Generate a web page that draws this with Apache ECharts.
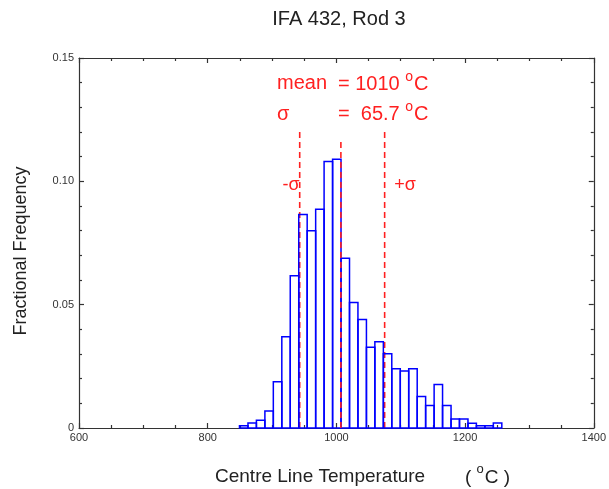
<!DOCTYPE html>
<html><head><meta charset="utf-8">
<script src="https://cdn.jsdelivr.net/npm/echarts@6/dist/echarts.min.js"></script>
<style>html,body{margin:0;padding:0;background:#fff}#c{width:609px;height:489px}</style>
</head><body><div id="c"></div>
<script>
const chartTitle = 'IFA 432, Rod 3';
const xAxisTitle = 'Centre Line Temperature';
const yAxisTitle = 'Fractional Frequency';
// histogram bin edges (°C) and fractional frequencies
const binEdges = [849.4, 862.6, 875.7, 888.9, 902.0, 915.2, 928.3, 941.5, 954.6, 967.8, 980.9, 994.1, 1007.2, 1020.4, 1033.5, 1046.7, 1059.8, 1073.0, 1086.1, 1099.3, 1112.4, 1125.6, 1138.7, 1151.9, 1165.0, 1178.2, 1191.3, 1204.5, 1217.6, 1230.8, 1243.9, 1257.1];
const fracFreq = [0.0009, 0.0020, 0.0031, 0.0069, 0.0188, 0.0370, 0.0617, 0.0866, 0.0800, 0.0887, 0.1080, 0.1090, 0.0688, 0.0509, 0.0440, 0.0327, 0.0350, 0.0301, 0.0240, 0.0231, 0.0240, 0.0128, 0.0091, 0.0176, 0.0091, 0.0036, 0.0036, 0.0019, 0.0009, 0.0009, 0.0020];
const xTickValues = [600, 800, 1000, 1200, 1400];
const yTickLabels = {0: '0', 0.05: '0.05', 0.1: '0.10', 0.15: '0.15'};
const meanText = '1010';
const sigmaText = '65.7';
const meanLineX = 1007;
const minusSigmaX = 943;
const plusSigmaX = 1075;
const sigmaLineTop = 0.1204;
const meanLineTop = 0.1172;

const chart = echarts.init(document.getElementById('c'), null, {renderer: 'canvas'});
const red = '#ff2020';
const axisCol = '#333';
const txtCol = '#222';
const font = 'Liberation Sans, Arial, sans-serif';

function axisBase(pos, isX) {
  return {
    type: 'value',
    position: pos,
    min: isX ? 600 : 0,
    max: isX ? 1400 : 0.15,
    interval: isX ? 200 : 0.05,
    axisLine: {show: true, onZero: false, lineStyle: {color: axisCol, width: 1.2}},
    axisTick: {show: true, inside: true, length: 5, lineStyle: {color: axisCol, width: 1.2}},
    minorTick: {show: true, splitNumber: isX ? 4 : 5, length: 3, lineStyle: {color: axisCol, width: 1.2}},
    splitLine: {show: false},
    axisLabel: {show: false}
  };
}
const xBottom = axisBase('bottom', true);
xBottom.axisLabel = {show: true, margin: 4, color: '#333', fontSize: 11, fontFamily: font,
  formatter: v => xTickValues.includes(v) ? String(v) : ''};
const yLeft = axisBase('left', false);
yLeft.axisLabel = {show: true, margin: 5, color: '#333', fontSize: 11, fontFamily: font,
  formatter: v => { const k = Math.round(v * 100) / 100; return yTickLabels[k] !== undefined ? yTickLabels[k] : ''; }};

const barData = fracFreq.map((v, i) => [binEdges[i], binEdges[i + 1], v]);

function vline(x, top, z) {
  return {
    type: 'line', xAxisIndex: 0, yAxisIndex: 0, z: z,
    data: [[x, 0], [x, top]], symbol: 'none', silent: true,
    lineStyle: {color: red, width: 1.6, type: [6, 4]}
  };
}

function degRichFor(col, big, small) {
  return {
    r: {fontSize: big, fill: col, color: col, fontFamily: font, lineHeight: 24, verticalAlign: 'bottom'},
    s: {fontSize: small, fill: col, color: col, fontFamily: font, lineHeight: 24, verticalAlign: 'top', padding: [0, 1, 0, 0]}
  };
}
const degRich = degRichFor(red, 20, 14);
const degRichK = degRichFor(txtCol, 19, 13);

chart.setOption({
  animation: false,
  backgroundColor: '#fff',
  grid: {left: 79, right: 12, top: 58, bottom: 61, containLabel: false},
  xAxis: [xBottom, axisBase('top', true)],
  yAxis: [yLeft, axisBase('right', false)],
  series: [
    vline(minusSigmaX, sigmaLineTop, 1),
    vline(plusSigmaX, sigmaLineTop, 1),
    {
      type: 'custom', xAxisIndex: 0, yAxisIndex: 0, z: 2,
      data: barData,
      encode: {x: [0, 1], y: 2},
      renderItem: (params, api) => {
        const p0 = api.coord([api.value(0), api.value(2)]);
        const p1 = api.coord([api.value(1), 0]);
        return {type: 'rect', shape: {x: p0[0], y: p0[1], width: p1[0] - p0[0], height: p1[1] - p0[1]},
          style: {fill: 'none', stroke: '#0000ff', lineWidth: 1.5}};
      }
    },
    vline(meanLineX, meanLineTop, 3)
  ],
  graphic: [
    {type: 'text', x: 339, y: 19, style: {text: chartTitle, fontSize: 20, fill: txtCol, fontFamily: font, align: 'center', verticalAlign: 'middle'}},
    {type: 'text', x: 277, y: 83, style: {text: 'mean', fontSize: 20, fill: red, fontFamily: font, verticalAlign: 'middle'}},
    {type: 'text', x: 338, y: 82, style: {text: '{r|= ' + meanText + ' }{s|o}{r|C}', rich: degRich, verticalAlign: 'middle'}},
    {type: 'text', x: 277, y: 114, style: {text: 'σ', fontSize: 20, fill: red, fontFamily: font, verticalAlign: 'middle'}},
    {type: 'text', x: 338, y: 112, style: {text: '{r|=  ' + sigmaText + ' }{s|o}{r|C}', rich: degRich, verticalAlign: 'middle'}},
    {type: 'text', x: 291, y: 185, style: {text: '-σ', fontSize: 18, fill: red, fontFamily: font, align: 'center', verticalAlign: 'middle'}},
    {type: 'text', x: 405, y: 185, style: {text: '+σ', fontSize: 18, fill: red, fontFamily: font, align: 'center', verticalAlign: 'middle'}},
    {type: 'text', x: 215, y: 477, style: {text: xAxisTitle, fontSize: 19, fill: txtCol, fontFamily: font, verticalAlign: 'middle'}},
    {type: 'text', x: 465, y: 475, style: {text: '{r|( }{s|o}{r|C )}', rich: degRichK, verticalAlign: 'middle'}},
    {type: 'text', x: 21, y: 251, rotation: Math.PI / 2, style: {text: yAxisTitle, fontSize: 18, fill: txtCol, fontFamily: font, align: 'center', verticalAlign: 'middle'}}
  ]
});
</script></body></html>
